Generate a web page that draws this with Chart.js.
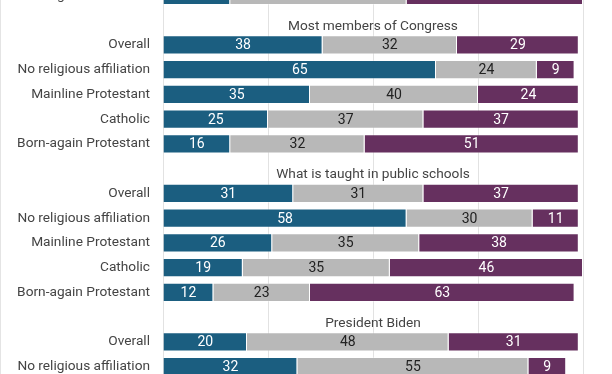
<!DOCTYPE html>
<html lang="en">
<head>
    <meta charset="UTF-8">
    <title>Influence by religious group</title>
    <script src="https://cdn.jsdelivr.net/npm/chart.js"></script>
    <style>
        html, body {
            margin: 0;
            padding: 0;
            width: 612px;
            height: 374px;
            overflow: hidden;
            background: #fff;
        }
        .frame {
            position: absolute;
            left: 0;
            top: 0;
            width: 612px;
            height: 374px;
            border-left: 1px solid #e4e4e4;
            box-sizing: border-box;
        }
        /* chart is taller than the window: first and last rows are cut off */
        .wrap {
            position: absolute;
            left: 0;
            top: -17px;
            width: 612px;
            height: 396px;
        }
    </style>
</head>
<body>
    <div class="frame"></div>
    <div class="wrap"><canvas id="chart"></canvas></div>

    <script>
        // Rows, top to bottom ("" = section title row)
        const rowLabels = [
            "Born-again Protestant",
            "",
            "Overall", "No religious affiliation", "Mainline Protestant", "Catholic", "Born-again Protestant",
            "",
            "Overall", "No religious affiliation", "Mainline Protestant", "Catholic", "Born-again Protestant",
            "",
            "Overall", "No religious affiliation"
        ];
        // Titles drawn in the blank rows
        const sectionTitles = ["Most members of Congress", "What is taught in public schools", "President Biden"];

        const tealValues   = [16, null, 38, 65, 35, 25, 16, null, 31, 58, 26, 19, 12, null, 20, 32];
        const greyValues   = [42, null, 32, 24, 40, 37, 32, null, 31, 30, 35, 35, 23, null, 48, 55];
        const purpleValues = [42, null, 29,  9, 24, 37, 51, null, 37, 11, 38, 46, 63, null, 31,  9];

        const colors = ["#1b5e80", "#b8b8b8", "#66305f"];
        const labelColors = ["#ffffff", "#222222", "#ffffff"];

        // Value labels inside bar segments
        const valueLabels = {
            id: "valueLabels",
            afterDatasetsDraw(chart) {
                const ctx = chart.ctx;
                ctx.save();
                ctx.font = "14px Roboto";
                ctx.textAlign = "center";
                ctx.textBaseline = "middle";
                chart.data.datasets.forEach((ds, i) => {
                    chart.getDatasetMeta(i).data.forEach((bar, j) => {
                        const v = ds.data[j];
                        if (v == null) return;
                        ctx.fillStyle = labelColors[i];
                        ctx.fillText(v, (bar.x + bar.base) / 2, bar.y + 1);
                    });
                });
                ctx.restore();
            }
        };

        // Section titles in the empty rows
        const sectionTitle = {
            id: "sectionTitle",
            afterDatasetsDraw(chart) {
                const ctx = chart.ctx;
                const area = chart.chartArea;
                const yScale = chart.scales.y;
                ctx.save();
                ctx.font = "13.7px Roboto";
                ctx.fillStyle = "#444";
                ctx.textAlign = "center";
                ctx.textBaseline = "middle";
                let t = 0;
                rowLabels.forEach((lab, i) => {
                    if (lab !== "") return;
                    const y = yScale.getPixelForValue(i) + 6;
                    ctx.fillText(sectionTitles[t++], (area.left + area.right) / 2, y);
                });
                ctx.restore();
            }
        };

        new Chart(document.getElementById("chart"), {
            type: "bar",
            data: {
                labels: rowLabels,
                datasets: [
                    { label: "teal", data: tealValues, backgroundColor: colors[0] },
                    { label: "grey", data: greyValues, backgroundColor: colors[1] },
                    { label: "purple", data: purpleValues, backgroundColor: colors[2] }
                ].map(d => Object.assign(d, {
                    borderColor: "rgba(255,255,255,0.3)",
                    borderWidth: 1,
                    barPercentage: 0.77,
                    categoryPercentage: 1
                }))
            },
            options: {
                indexAxis: "y",
                responsive: true,
                maintainAspectRatio: false,
                animation: false,
                layout: { padding: { left: 0, right: 29, top: 0, bottom: 0 } },
                plugins: {
                    legend: { display: false },
                    tooltip: { enabled: false }
                },
                scales: {
                    x: {
                        stacked: true,
                        min: 0,
                        max: 100,
                        // no visible x axis, only the gridlines
                        afterFit(scale) {
                            scale.height = 0;
                            scale.paddingLeft = 0;
                            scale.paddingRight = 0;
                        },
                        ticks: { display: false, stepSize: 25 },
                        grid: { color: "#e2e2e2", drawTicks: false },
                        border: { display: false }
                    },
                    y: {
                        stacked: true,
                        afterFit(scale) {
                            scale.width = 163;
                            scale.paddingTop = 0;
                            scale.paddingBottom = 0;
                        },
                        ticks: {
                            color: "#444",
                            font: { family: "Roboto", size: 13.7 },
                            padding: 13
                        },
                        grid: { display: false, drawTicks: false },
                        border: { display: false }
                    }
                }
            },
            plugins: [valueLabels, sectionTitle]
        });
    </script>
</body>
</html>
